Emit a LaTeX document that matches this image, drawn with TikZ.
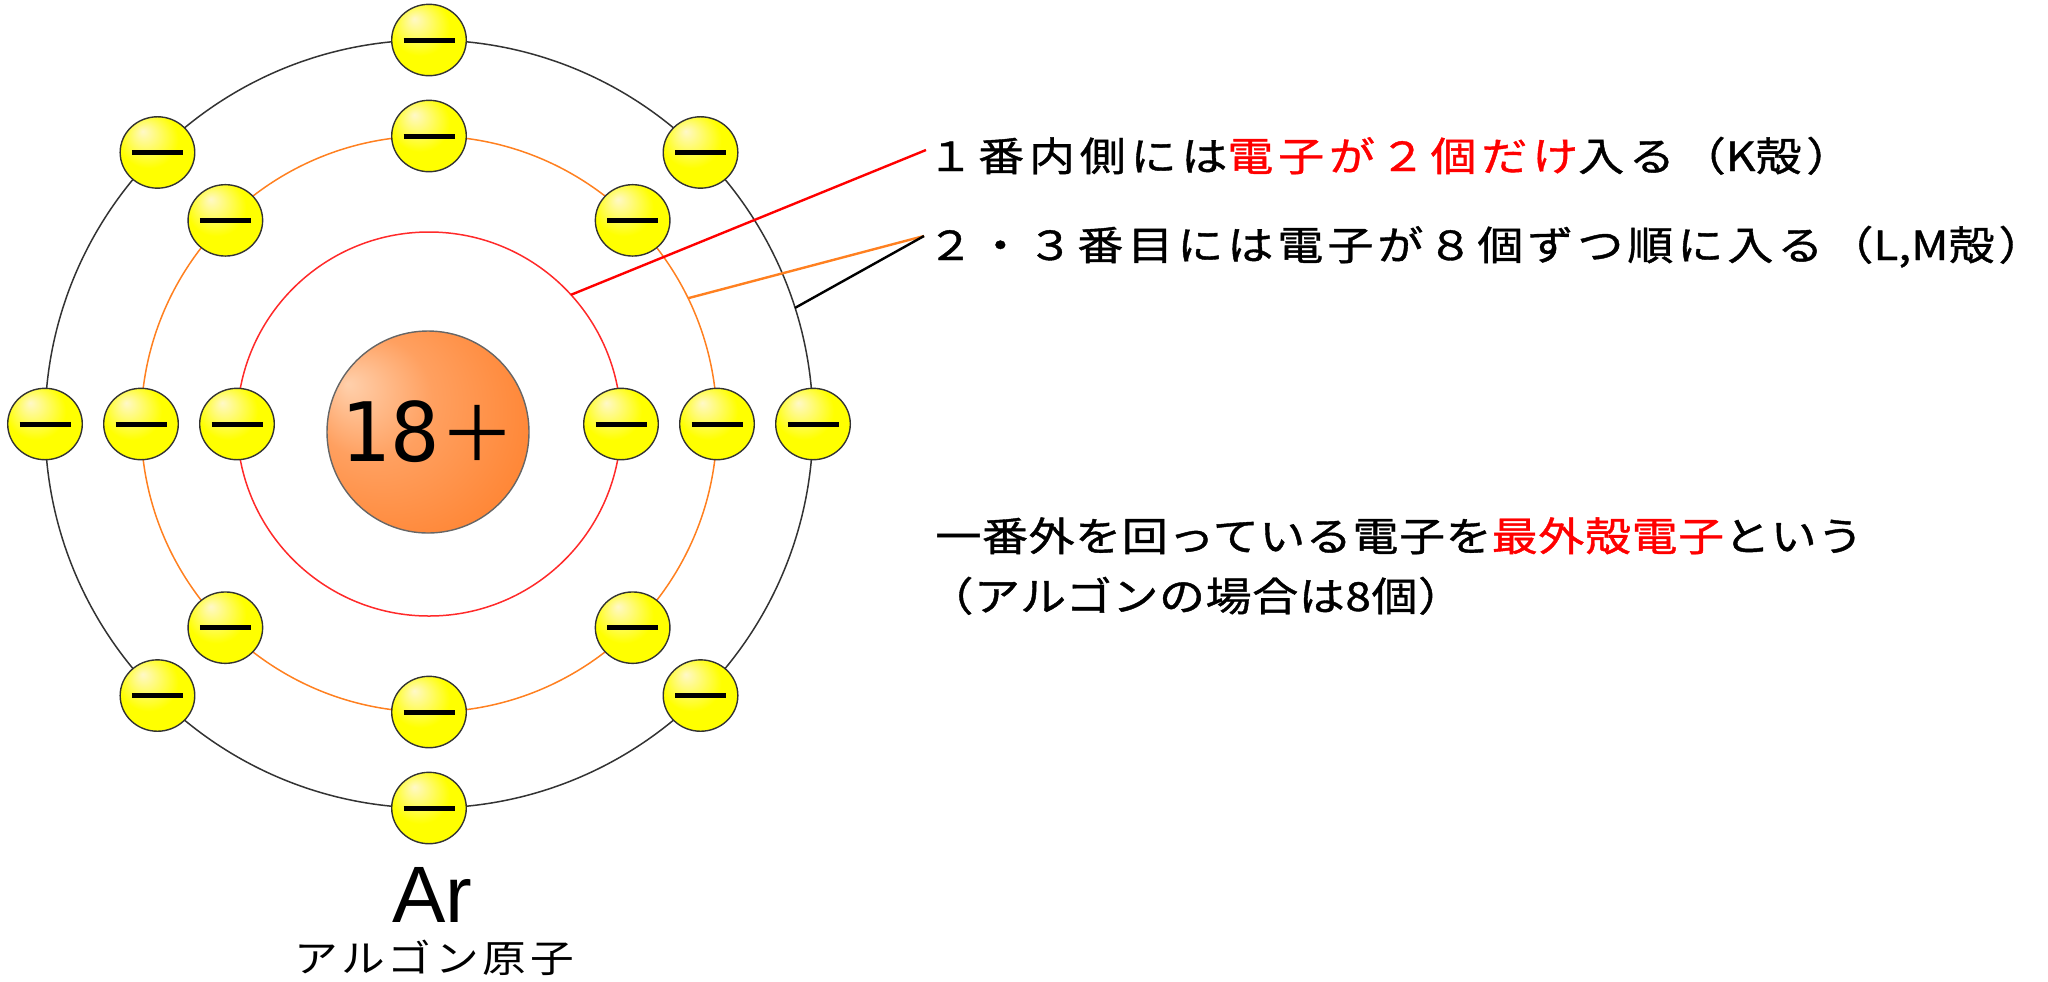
\documentclass[tikz,border=0pt]{standalone}
\usepackage{fontspec}
\usetikzlibrary{shapes.geometric}
\newfontfamily\jpfont[FakeStretch=1.15]{Noto Sans CJK JP}
\newfontfamily\jpnotefont[FakeStretch=1.15,FakeBold=1]{Noto Sans CJK JP}
\newfontfamily\jpplain{Noto Sans CJK JP}
\newfontfamily\monodigits{DejaVu Sans Mono}
\newfontfamily\arfont{Liberation Sans}
\definecolor{elechi}{HTML}{FFF8C8}
\definecolor{elecyel}{HTML}{FFFF00}
\definecolor{nuchi}{HTML}{FFD0AC}
\definecolor{nucmid}{HTML}{FFA060}
\definecolor{nucorange}{HTML}{FF8432}
\definecolor{shellred}{HTML}{FF2A2A}
\definecolor{shellorange}{HTML}{FF8020}
\definecolor{shellgray}{HTML}{333333}
\pgfdeclareradialshading{electronshade}{\pgfpoint{-10bp}{15bp}}%
  {color(0bp)=(elechi); color(20bp)=(elecyel); color(50bp)=(elecyel)}
\pgfdeclareradialshading{nucleusshade}{\pgfpoint{-20bp}{12bp}}%
  {color(0bp)=(nuchi); color(15bp)=(nucmid); color(35bp)=(nucorange); color(50bp)=(nucorange)}
\newcommand\minusbar{\rule[-1.25pt]{25.5pt}{2.5pt}}
\newcommand\tight[1]{{\addfontfeature{LetterSpace=0}#1}}

\begin{document}
\begin{tikzpicture}[x=0.5pt,y=-0.5pt,
  electron/.style={ellipse,draw=shellgray,line width=0.7pt,shade,shading=electronshade,
                   minimum width=37.3pt,minimum height=35.7pt,inner sep=0pt},
  shell/.style={line width=0.75pt},
  leader/.style={line width=1.2pt},
  notewide/.style={anchor=base west,inner sep=0pt,
                   font=\jpnotefont\fontsize{20pt}{24pt}\selectfont\addfontfeature{LetterSpace=12}},
  notefit/.style={anchor=base west,inner sep=0pt,
                   font=\jpnotefont\fontsize{20pt}{24pt}\selectfont\addfontfeature{LetterSpace=10}},
  notenarrow/.style={anchor=base west,inner sep=0pt,
                   font=\jpnotefont\fontsize{20pt}{24pt}\selectfont\addfontfeature{LetterSpace=1.5}}]
  \useasboundingbox (0,0) rectangle (2048,981);
  \coordinate (C) at (429,424);
  % Shells K, L, M
  \draw[shell,shellred]    (C) circle[radius=192];
  \draw[shell,shellorange] (C) circle[radius=288];
  \draw[shell,shellgray]   (C) circle[radius=384];
  % Nucleus
  \node[circle,draw=black!60,line width=0.7pt,shade,shading=nucleusshade,
        minimum size=101pt,inner sep=0pt] (nucleus) at (428,432)
        {{\monodigits\fontsize{41pt}{41pt}\selectfont 18}{\jpplain\fontsize{38pt}{38pt}\selectfont ＋}};
  % Electrons
  \foreach \a in {0,180}
    \node[electron] (k\a) at ([shift={(\a:192)}]C) {\minusbar};
  \foreach \a in {0,45,...,315}
    \node[electron] (l\a) at ([shift={(\a:288)}]C) {\minusbar};
  \foreach \a in {0,45,...,315}
    \node[electron] (m\a) at ([shift={(\a:384)}]C) {\minusbar};
  % Leaders to the notes
  \coordinate (k tip)   at ([shift={(-42.3:192)}]C);
  \coordinate (l tip)   at ([shift={(-25.9:288)}]C);
  \coordinate (m tip)   at ([shift={(-17.6:384)}]C);
  \coordinate (k note)  at (926,150);
  \coordinate (lm note) at (924,236);
  \draw[leader,red]         (k tip) -- (k note);
  \draw[leader,shellorange] (l tip) -- (lm note);
  \draw[leader,black]       (m tip) -- (lm note);
  % Notes
  \node[notewide]   (kline)  at (927,171) {１番内側には{\color{red}電子が２個だけ}入る（\tight{K}殻）};
  \node[notefit]    (lmline) at (927,260) {２・３番目には電子が８個ずつ順に入る（\tight{L,M}殻）};
  \node[notenarrow] (outer)  at (935,551) {一番外を回っている電子を{\color{red}最外殻電子}という};
  \node[notenarrow] (count)  at (927,611) {（アルゴンの場合は8個）};
  % Atom name
  \node[anchor=base,font=\arfont\fontsize{40pt}{40pt}\selectfont] (symbol) at (432,922) {Ar};
  \node[anchor=base,font=\jpfont\fontsize{19pt}{22pt}\selectfont\addfontfeature{LetterSpace=10}]
        (name) at (434,972) {アルゴン原子};
\end{tikzpicture}
\end{document}
